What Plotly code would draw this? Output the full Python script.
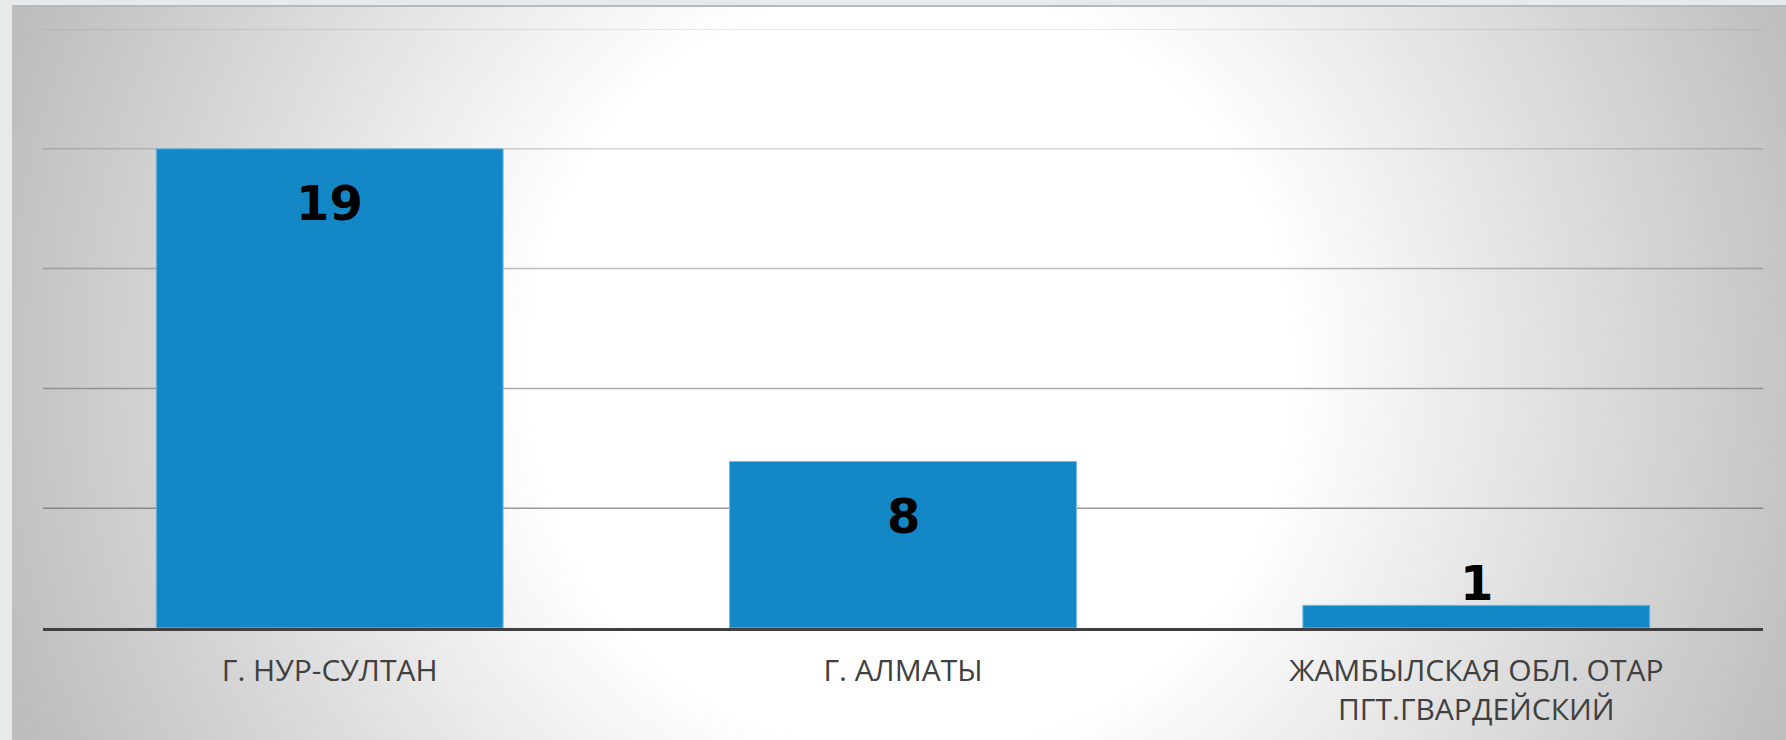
import base64
import plotly.graph_objects as go

# ---- data ----
categories = ["Г. НУР-СУЛТАН", "Г. АЛМАТЫ", "ЖАМБЫЛСКАЯ ОБЛ. ОТАР<br>ПГТ.ГВАРДЕЙСКИЙ"]
bar_heights = [19.0, 6.6, 0.9]      # bar heights as drawn in the picture (axis units)
value_labels = [19, 8, 1]           # data labels shown on the bars
grid_values = [4.75, 9.5, 14.25, 19.0, 23.75]
y_max = 23.75

# ---- geometry ----
W, H = 1786, 740
ML, MR, MT, MB = 43, 23, 29, 112
PW, PH = W - ML - MR, H - MT - MB

# background: radial grey-white gradient, drawn as an SVG layout image
BG_X0, BG_Y0 = 12, 5
BG_W, BG_H = W - BG_X0, H - BG_Y0
svg = f'''<svg xmlns="http://www.w3.org/2000/svg" width="{BG_W}" height="{BG_H}" viewBox="0 0 {BG_W} {BG_H}" preserveAspectRatio="none">
<defs><radialGradient id="g" gradientUnits="userSpaceOnUse" cx="898" cy="365" r="950">
<stop offset="0" stop-color="#ffffff"/><stop offset="0.4" stop-color="#ffffff"/><stop offset="1" stop-color="#bdbdbd"/>
</radialGradient></defs>
<rect x="0" y="0" width="{BG_W}" height="{BG_H}" fill="url(#g)"/>
<rect x="0" y="0" width="{BG_W}" height="2" fill="#b9b9b9"/>
</svg>'''
svg_uri = "data:image/svg+xml;base64," + base64.b64encode(svg.encode("utf-8")).decode("ascii")

fig = go.Figure()
fig.add_trace(go.Bar(
    x=categories, y=bar_heights,
    marker=dict(color="#1487c6", line=dict(color="#74b9e4", width=1)),
    hoverinfo="skip",
))

# data labels: inside near the top for tall bars, just above for short bars
for cat, h, lab in zip(categories, bar_heights, value_labels):
    inside = h > 3
    fig.add_annotation(
        x=cat, y=h, xref="x", yref="y", text=str(lab), showarrow=False,
        yanchor="middle", yshift=(-54 if inside else 22),
        font=dict(family="DejaVu Sans", size=48, color="#000000", weight="bold"),
    )

# gridlines: fainter towards the top
alphas = [0.65, 0.55, 0.42, 0.27, 0.18]
for g, a in zip(grid_values, alphas):
    fig.add_shape(type="line", xref="paper", yref="y", x0=0, x1=1, y0=g, y1=g,
                  line=dict(color=f"rgba(100,100,100,{a})", width=1.5), layer="below")

fig.add_layout_image(
    source=svg_uri, xref="paper", yref="paper",
    x=(BG_X0 - ML) / PW, y=(H - MB - BG_Y0) / PH,
    sizex=BG_W / PW, sizey=BG_H / PH,
    xanchor="left", yanchor="top", sizing="stretch", layer="below",
)

fig.update_layout(
    template="none",
    width=W, height=H,
    margin=dict(l=ML, r=MR, t=MT, b=MB, pad=0),
    paper_bgcolor="#e7eaea",
    plot_bgcolor="rgba(0,0,0,0)",
    bargap=0.395,
    showlegend=False,
    xaxis=dict(
        showgrid=False, zeroline=False,
        showline=True, linecolor="#404040", linewidth=3,
        ticks="outside", ticklen=14, tickcolor="rgba(0,0,0,0)",
        tickfont=dict(family="Open Sans", size=30, color="#404040"),
    ),
    yaxis=dict(
        range=[0, y_max], showgrid=False, zeroline=False,
        showticklabels=False, ticks="", showline=False,
    ),
)

fig.write_html(
    "out.html",
    config={"displayModeBar": False},
    post_script="document.body.style.margin='0px';document.body.style.overflow='hidden';",
)
